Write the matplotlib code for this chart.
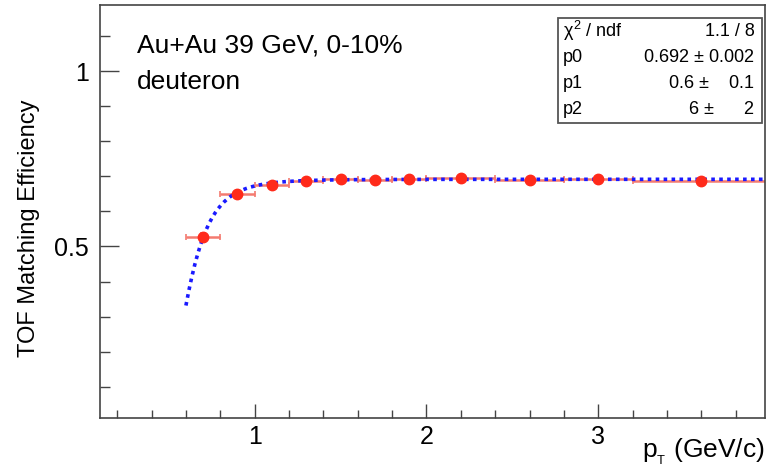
import numpy as np
import matplotlib
matplotlib.use("Agg")
import matplotlib.pyplot as plt
from matplotlib.ticker import MultipleLocator, FixedLocator

# data
pt = [0.7, 0.9, 1.1, 1.3, 1.5, 1.7, 1.9, 2.2, 2.6, 3.0, 3.6]
pt_lo = [0.6, 0.8, 1.0, 1.2, 1.4, 1.6, 1.8, 2.0, 2.4, 2.8, 3.2]
pt_hi = [0.8, 1.0, 1.2, 1.4, 1.6, 1.8, 2.0, 2.4, 2.8, 3.2, 4.0]
eff = [0.526, 0.651, 0.676, 0.687, 0.693, 0.690, 0.693, 0.695, 0.689, 0.694, 0.686]
eff_err = [0.012, 0.006, 0.004, 0.003, 0.003, 0.003, 0.003, 0.003, 0.003, 0.004, 0.004]

# fit parameters: p0*exp(-(p1/x)^p2)
p0, p1, p2 = 0.692, 0.572, 6.4
fit_range = (0.6, 4.0)

stats_rows = [("$\\chi^2$ / ndf", "1.1 / 8"),
              ("p0", "0.692$\\,\\pm\\,$0.002"),
              ("p1", "0.6$\\,\\pm\\,$   0.1"),
              ("p2", "6$\\,\\pm\\,$     2")]

plt.rcParams['font.family'] = ['Liberation Sans', 'DejaVu Sans']
plt.rcParams['mathtext.fontset'] = 'custom'
plt.rcParams['mathtext.rm'] = 'Liberation Sans'
plt.rcParams['mathtext.it'] = 'Liberation Sans'

fig = plt.figure(figsize=(7.68, 4.71), dpi=100)
ax = fig.add_axes([100/768, 53/471, 665/768, 413/471])

ptarr = np.array(pt)
xerr = [ptarr - np.array(pt_lo), np.array(pt_hi) - ptarr]
ax.errorbar(pt, eff, xerr=xerr, yerr=eff_err, fmt='none', ecolor='#f47a70',
            elinewidth=1.8, capsize=2.5, capthick=1.2, zorder=2)

xf = np.linspace(fit_range[0], fit_range[1], 400)
yf = p0 * np.exp(-(p1 / xf) ** p2)
ax.plot(xf, yf, color='#1a1aff', lw=2.6, ls=(0, (1.0, 1.2)), zorder=3)

ax.plot(pt, eff, 'o', color='#ff2a1a', ms=7.5, zorder=4)

ax.set_xlim(0.1, 3.97)
ax.set_ylim(0.01, 1.19)
ax.xaxis.set_major_locator(FixedLocator([1, 2, 3]))
ax.xaxis.set_minor_locator(MultipleLocator(0.2))
ax.yaxis.set_major_locator(FixedLocator([0.5, 1.0]))
ax.yaxis.set_minor_locator(MultipleLocator(0.1))
ax.set_xticklabels(['1', '2', '3'])
ax.set_yticklabels(['0.5', '1'])
ax.tick_params(axis='x', which='major', direction='in', length=10, width=1, labelsize=18, pad=5, color='#444444')
ax.tick_params(axis='x', which='minor', direction='in', length=5.5, width=1, color='#444444')
ax.tick_params(axis='y', which='major', direction='in', length=14, width=1, labelsize=18, pad=8, color='#444444')
ax.tick_params(axis='y', which='minor', direction='in', length=7, width=1, color='#444444')
for s in ax.spines.values():
    s.set_color('#444444')
    s.set_linewidth(1.2)

ax.set_ylabel('TOF Matching Efficiency', fontsize=17)
ax.yaxis.set_label_coords(-60/665, (471 - 228 - 53)/413)
fig.text(765/768, 1 - 452/471, '$p_{_T}$ (GeV/c)', fontsize=19, ha='right', va='center')

fig.text(137/768, 1 - 45/471, 'Au+Au 39 GeV, 0-10%', fontsize=19, ha='left', va='center')
fig.text(137/768, 1 - 82/471, 'deuteron', fontsize=19, ha='left', va='center')

# stats box
bx0, by0, bx1, by1 = 558, 18, 762, 123
fig.patches.append(plt.Rectangle((bx0/768, 1 - by1/471), (bx1-bx0)/768, (by1-by0)/471,
                                 transform=fig.transFigure, fill=True, facecolor='white',
                                 edgecolor='#555555', lw=1.3, zorder=5))
rowh = (by1 - by0) / 4
for i, (k, v) in enumerate(stats_rows):
    yc = by0 + rowh * (i + 0.5)
    fig.text((bx0 + 5)/768, 1 - yc/471, k, fontsize=13, ha='left', va='center', zorder=6)
    fig.text((bx1 - 7)/768, 1 - yc/471, v, fontsize=13, ha='right', va='center', zorder=6)

fig.savefig('out.png', dpi=100)
